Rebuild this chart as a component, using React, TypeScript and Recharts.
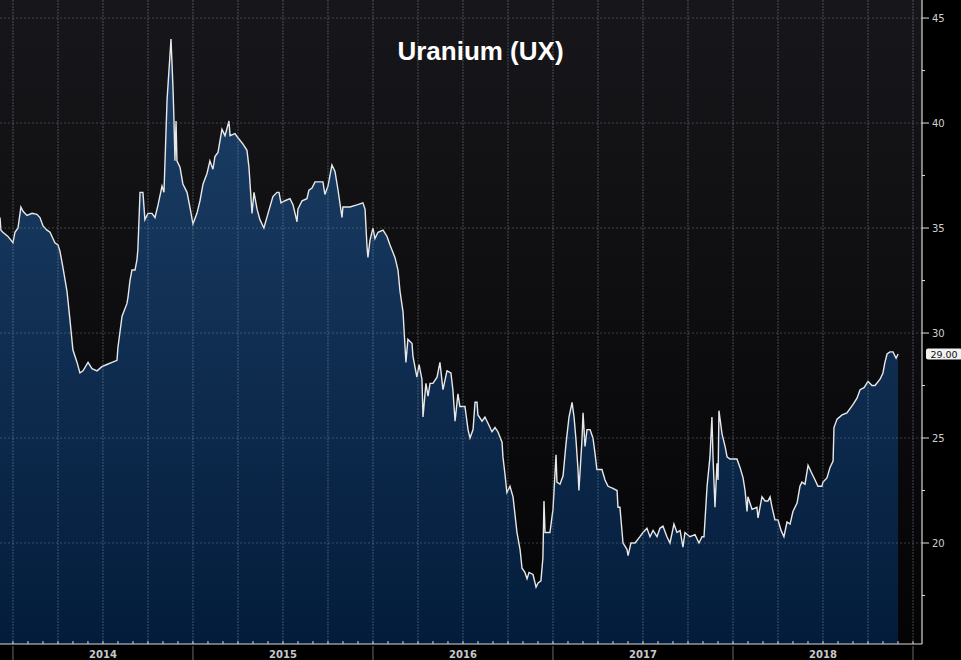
import React from 'react';
import { AreaChart, Area, XAxis, YAxis, CartesianGrid, ReferenceLine, ReferenceDot } from 'recharts';

// decimal years (2014.5 = 1 July 2014) and UX spot price
const dates = [
  2013.928, 2013.933, 2013.944, 2013.972, 2014.0, 2014.011, 2014.028, 2014.044, 2014.056, 2014.078,
  2014.106, 2014.133, 2014.15, 2014.167, 2014.189, 2014.206, 2014.222, 2014.233, 2014.25, 2014.261,
  2014.278, 2014.3, 2014.317, 2014.333, 2014.356, 2014.372, 2014.389, 2014.417, 2014.439, 2014.467,
  2014.494, 2014.522, 2014.55, 2014.578, 2014.583, 2014.606, 2014.633, 2014.639, 2014.65, 2014.661,
  2014.678, 2014.689, 2014.694, 2014.706, 2014.722, 2014.733, 2014.75, 2014.772, 2014.789, 2014.806,
  2014.828, 2014.839, 2014.856, 2014.878, 2014.889, 2014.894, 2014.9, 2014.906, 2014.911, 2014.928,
  2014.944, 2014.967, 2014.983, 2015.0, 2015.022, 2015.039, 2015.056, 2015.078, 2015.094, 2015.111,
  2015.122, 2015.139, 2015.161, 2015.178, 2015.2, 2015.206, 2015.233, 2015.25, 2015.278, 2015.3,
  2015.311, 2015.328, 2015.339, 2015.356, 2015.372, 2015.394, 2015.417, 2015.444, 2015.467, 2015.478,
  2015.489, 2015.511, 2015.539, 2015.556, 2015.578, 2015.583, 2015.606, 2015.633, 2015.644, 2015.661,
  2015.678, 2015.722, 2015.733, 2015.75, 2015.772, 2015.789, 2015.806, 2015.828, 2015.833, 2015.872,
  2015.911, 2015.944, 2015.956, 2015.967, 2015.972, 2015.983, 2016.0, 2016.011, 2016.028, 2016.056,
  2016.078, 2016.094, 2016.122, 2016.139, 2016.15, 2016.167, 2016.183, 2016.194, 2016.217, 2016.222,
  2016.244, 2016.256, 2016.272, 2016.278, 2016.294, 2016.306, 2016.317, 2016.333, 2016.356, 2016.372,
  2016.389, 2016.411, 2016.433, 2016.444, 2016.456, 2016.472, 2016.483, 2016.511, 2016.528, 2016.539,
  2016.556, 2016.567, 2016.578, 2016.583, 2016.606, 2016.622, 2016.639, 2016.661, 2016.678, 2016.694,
  2016.717, 2016.722, 2016.733, 2016.744, 2016.761, 2016.778, 2016.8, 2016.817, 2016.828, 2016.844,
  2016.856, 2016.867, 2016.889, 2016.906, 2016.917, 2016.933, 2016.944, 2016.95, 2016.956, 2016.983,
  2017.0, 2017.017, 2017.022, 2017.039, 2017.056, 2017.072, 2017.089, 2017.106, 2017.117, 2017.128,
  2017.139, 2017.144, 2017.161, 2017.167, 2017.178, 2017.189, 2017.206, 2017.222, 2017.233, 2017.244,
  2017.272, 2017.289, 2017.306, 2017.333, 2017.356, 2017.361, 2017.372, 2017.389, 2017.411, 2017.417,
  2017.433, 2017.456, 2017.483, 2017.5, 2017.522, 2017.539, 2017.556, 2017.578, 2017.594, 2017.611,
  2017.633, 2017.65, 2017.672, 2017.689, 2017.706, 2017.722, 2017.733, 2017.761, 2017.789, 2017.811,
  2017.828, 2017.839, 2017.856, 2017.872, 2017.883, 2017.889, 2017.9, 2017.911, 2017.917, 2017.922,
  2017.939, 2017.956, 2017.967, 2017.983, 2018.022, 2018.039, 2018.056, 2018.067, 2018.078, 2018.083,
  2018.106, 2018.133, 2018.139, 2018.161, 2018.178, 2018.194, 2018.206, 2018.217, 2018.233, 2018.25,
  2018.267, 2018.283, 2018.3, 2018.317, 2018.333, 2018.356, 2018.372, 2018.383, 2018.4, 2018.417,
  2018.439, 2018.456, 2018.472, 2018.494, 2018.5, 2018.522, 2018.539, 2018.556, 2018.561, 2018.578,
  2018.606, 2018.633, 2018.65, 2018.667, 2018.689, 2018.706, 2018.728, 2018.75, 2018.772, 2018.789,
  2018.817, 2018.833, 2018.844, 2018.856, 2018.872, 2018.889, 2018.906, 2018.917,
];

const prices = [
  35.5, 34.9, 34.8, 34.6, 34.3, 34.8, 35.0, 36.0, 35.8, 35.6,
  35.7, 35.65, 35.5, 35.1, 34.9, 34.8, 34.5, 34.3, 34.2, 33.9,
  33.1, 32.0, 30.6, 29.2, 28.6, 28.1, 28.2, 28.6, 28.3, 28.2,
  28.4, 28.5, 28.6, 28.7, 29.3, 30.8, 31.4, 31.7, 32.5, 33.0,
  33.0, 33.5, 34.0, 36.7, 36.7, 35.4, 35.7, 35.7, 35.5, 36.1,
  37.0, 36.7, 41.1, 44.0, 41.7, 40.3, 38.2, 40.1, 38.2, 37.9,
  37.1, 36.7, 36.0, 35.2, 35.7, 36.3, 37.1, 37.6, 38.2, 37.8,
  38.4, 38.6, 39.7, 39.4, 40.1, 39.4, 39.5, 39.3, 39.0, 38.7,
  37.9, 35.7, 36.7, 35.9, 35.4, 35.0, 35.7, 36.5, 36.7, 36.7,
  36.2, 36.3, 36.4, 36.1, 35.3, 35.9, 36.3, 36.4, 36.8, 36.9,
  37.2, 37.2, 36.6, 37.0, 38.0, 37.7, 36.8, 35.5, 36.0, 36.0,
  36.1, 36.2, 35.9, 34.1, 33.6, 34.4, 35.0, 34.5, 34.8, 34.9,
  34.6, 34.2, 33.6, 33.0, 32.0, 31.0, 28.6, 29.7, 29.5, 28.9,
  27.9, 28.5, 27.8, 26.0, 27.6, 27.0, 27.6, 27.6, 27.9, 28.6,
  27.3, 28.2, 28.1, 27.3, 25.8, 27.1, 26.5, 26.5, 25.4, 25.0,
  25.4, 26.7, 26.7, 26.1, 25.8, 26.0, 25.7, 25.3, 25.5, 25.3,
  24.8, 24.1, 23.3, 22.4, 22.7, 22.2, 20.5, 19.7, 18.8, 18.6,
  18.3, 18.6, 18.5, 17.9, 18.1, 18.2, 19.3, 22.0, 20.5, 20.5,
  21.6, 24.2, 22.9, 22.8, 23.2, 24.7, 26.0, 26.7, 26.0, 24.9,
  23.5, 22.5, 24.9, 26.2, 24.6, 25.4, 25.4, 25.0, 24.3, 23.5,
  23.5, 23.0, 22.7, 22.6, 22.5, 21.7, 21.7, 20.0, 19.7, 19.4,
  20.0, 20.0, 20.3, 20.5, 20.7, 20.3, 20.6, 20.3, 20.7, 20.8,
  20.3, 20.0, 20.9, 20.5, 20.6, 19.8, 20.5, 20.3, 20.4, 20.0,
  20.3, 20.3, 22.7, 24.1, 26.0, 24.1, 21.7, 23.8, 23.0, 26.3,
  25.2, 24.6, 24.1, 24.0, 24.0, 23.6, 23.1, 22.5, 21.5, 22.2,
  21.6, 21.7, 21.2, 22.2, 22.0, 22.0, 22.2, 21.7, 21.1, 21.1,
  20.6, 20.3, 21.0, 20.9, 21.5, 21.9, 22.7, 22.9, 22.8, 23.7,
  23.3, 23.0, 22.7, 22.7, 22.9, 23.1, 23.6, 23.9, 25.5, 25.9,
  26.1, 26.2, 26.4, 26.6, 26.9, 27.3, 27.4, 27.7, 27.5, 27.5,
  27.8, 28.1, 28.6, 29.0, 29.1, 29.1, 28.8, 29.0,
];

const years = [2014, 2015, 2016, 2017, 2018];
const yTicks = [17.5, 20, 22.5, 25, 27.5, 30, 32.5, 35, 37.5, 40, 42.5, 45];
const hLines = [20, 25, 30, 35, 40, 45];

const data = dates.map((t, i) => ({ t, price: prices[i] }));

const monthTicks: number[] = [];
years.forEach((y) => {
  for (let m = 0; m < 12; m++) monthTicks.push(y + m / 12);
});
monthTicks.push(2019);

const quarterLines: number[] = [];
years.forEach((y) => {
  for (let q = 0; q < 4; q++) quarterLines.push(y + q / 4);
});
quarterLines.push(2019);

const lastPrice = prices[prices.length - 1];
const X_MIN = 2013.928;
const X_MAX = 2019.05;

const XTick = (props: any) => {
  const { x, y, payload } = props;
  const v = payload.value;
  const year = Math.floor(v + 1e-6);
  const month = Math.round((v - year) * 12);
  return (
    <g>
      <line x1={x} x2={x} y1={y - 3} y2={y} stroke="#d8d8d8" strokeWidth={1} />
      {month === 0 && <line x1={x} x2={x} y1={y + 2} y2={y + 16} stroke="#6a6a6a" strokeWidth={1} />}
      {month === 6 && (
        <text x={x} y={y + 14} textAnchor="middle" fill="#c8c8c8" fontSize={10} fontWeight="bold"
          fontFamily="'DejaVu Sans', sans-serif">
          {year}
        </text>
      )}
    </g>
  );
};

const YTick = (props: any) => {
  const { x, y, payload } = props;
  const v = payload.value;
  const major = v % 5 === 0;
  return (
    <g>
      <line x1={x} x2={x + (major ? 7 : 3)} y1={y} y2={y} stroke="#e0e0e0" strokeWidth={1} />
      {major && (
        <text x={x + 10} y={y + 4} fill="#d0d0d0" fontSize={10} fontFamily="'DejaVu Sans', sans-serif">
          {v}
        </text>
      )}
    </g>
  );
};

const LastLabel = (props: any) => {
  const { cx, cy } = props;
  if (cx == null || cy == null) return null;
  return (
    <g>
      <rect x={cx + 4} y={cy - 5.5} width={36} height={11} rx={2} fill="#f2f2f2" />
      <text x={cx + 22} y={cy + 3.5} textAnchor="middle" fill="#111" fontSize={9.5}
        fontFamily="'DejaVu Sans', sans-serif">
        {lastPrice.toFixed(2)}
      </text>
    </g>
  );
};

export default function App() {
  return (
    <div style={{ position: 'fixed', left: 0, top: 0, width: 961, height: 660, background: '#000' }}>
      <AreaChart width={961} height={660} data={data} margin={{ top: 0, right: 0, bottom: 0, left: 0 }}>
        <defs>
          <linearGradient id="plotBg" x1="0" y1="0" x2="0" y2="1">
            <stop offset="0%" stopColor="#17171b" />
            <stop offset="100%" stopColor="#040405" />
          </linearGradient>
          <linearGradient id="areaFill" x1="0" y1="0" x2="0" y2="1">
            <stop offset="0%" stopColor="#1d4068" />
            <stop offset="100%" stopColor="#031c3b" />
          </linearGradient>
        </defs>
        <CartesianGrid horizontal={false} vertical={false} fill="url(#plotBg)" />
        <XAxis
          dataKey="t"
          type="number"
          domain={[X_MIN, X_MAX]}
          allowDataOverflow
          ticks={monthTicks}
          interval={0}
          tick={<XTick />}
          tickLine={false}
          tickSize={0}
          tickMargin={0}
          height={16}
          axisLine={{ stroke: '#d8d8d8' }}
        />
        <YAxis
          orientation="right"
          type="number"
          domain={[15.19, 45.86]}
          allowDataOverflow
          ticks={yTicks}
          interval={0}
          tick={<YTick />}
          tickLine={false}
          tickSize={0}
          tickMargin={0}
          width={39}
          axisLine={{ stroke: '#ffffff' }}
        />
        <Area
          type="linear"
          dataKey="price"
          stroke="#e8e8e8"
          strokeWidth={1.4}
          fill="url(#areaFill)"
          fillOpacity={1}
          dot={false}
          activeDot={false}
          isAnimationActive={false}
        />
        {quarterLines.map((q) => (
          <ReferenceLine key={'q' + q} x={q} stroke="#8a93a6" strokeOpacity={0.45} strokeDasharray="2 1" />
        ))}
        {hLines.map((h) => (
          <ReferenceLine key={'h' + h} y={h} stroke="#8a8f99" strokeOpacity={0.4} strokeDasharray="2 2" />
        ))}
        <ReferenceDot x={X_MAX} y={lastPrice} r={0} shape={<LastLabel />} ifOverflow="visible" />
      </AreaChart>
      <div
        style={{
          position: 'absolute',
          left: 0,
          width: 961,
          top: 35,
          textAlign: 'center',
          color: '#fff',
          fontFamily: "'Liberation Sans', Arial, sans-serif",
          fontWeight: 'bold',
          fontSize: 26,
          lineHeight: '32px',
        }}
      >
        Uranium (UX)
      </div>
    </div>
  );
}
